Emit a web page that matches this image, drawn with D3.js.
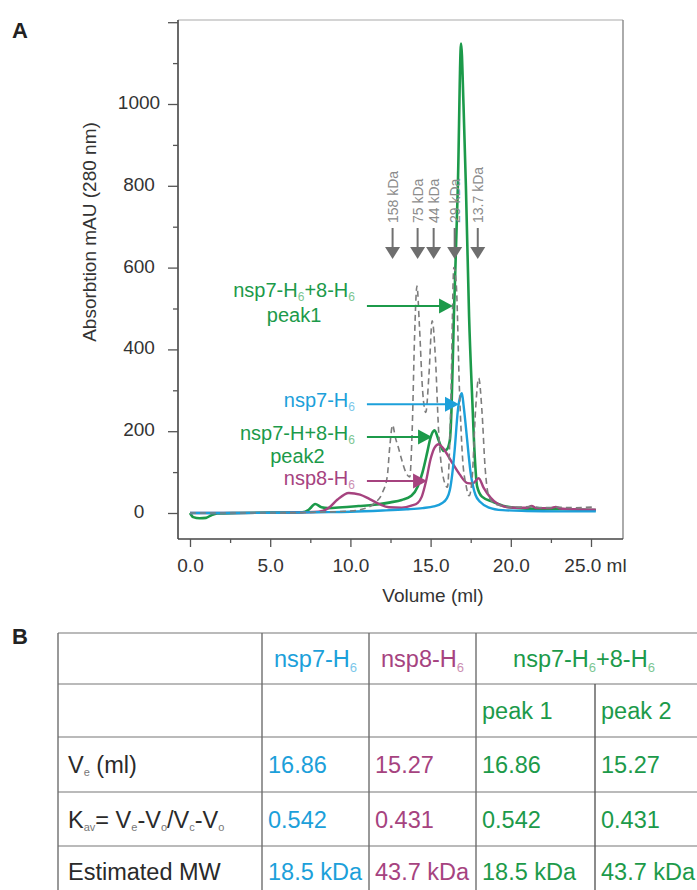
<!DOCTYPE html>
<html><head><meta charset="utf-8">
<script src="https://cdn.jsdelivr.net/npm/d3@7"></script>
<style>
body{margin:0;background:#fff;}
svg{display:block;font-family:"Liberation Sans",Arial,Helvetica,sans-serif;}
</style>
</head><body>
<svg id="c" width="697" height="890"></svg>
<script>
// ---------------- DATA ----------------
const volGreen = [0,0.2,0.6,1.0,1.3,1.7,3,5,7.0,7.4,7.8,8.2,8.6,9.5,10.5,11.5,12.5,13.2,13.8,14.2,14.5,14.8,15.0,15.25,15.5,15.8,16.0,16.2,16.3,16.45,16.7,16.9,17.05,17.2,17.4,17.6,17.75,17.9,18.2,18.9,19.5,20.5,22,23.5,25.3];
const absGreen = [0,-10,-13,-12,-6,-1,0,1,2,8,22,14,12,14,17,20,26,32,42,65,100,150,185,202,178,152,155,178,250,480,800,1148,1000,800,480,275,140,65,40,27,18,12,10,9,7];

const volBlue = [0,3,6,8,10,12,13.5,14.5,15.2,15.7,16.0,16.2,16.35,16.5,16.7,16.85,16.95,17.05,17.2,17.35,17.5,17.65,17.8,18.1,18.6,19.5,21,23,25.3];
const absBlue = [0,0,1,2,3,6,9,12,16,24,35,56,95,154,251,285,293,265,210,150,97,65,44,27,14,7,5,4,4];

const volMagenta = [0,3,6,8,8.7,9.2,9.9,10.6,11.2,11.8,12.4,13.2,13.8,14.2,14.45,14.7,15.0,15.25,15.5,15.75,16.25,16.8,17.3,17.6,18.0,18.3,18.75,19.5,20.2,21,21.3,21.6,22.5,22.8,23.1,24,25.3];
const absMagenta = [0,0,1,3,14,33,49,45,34,22,14,13,18,25,40,75,132,160,168,160,129,95,73,72,85,62,37,17,13,13,17,12,12,15,11,9,8];

const volStd = [0,5,8,10,11,11.5,12.0,12.3,12.45,12.63,12.8,13.0,13.2,13.45,13.7,13.85,14.0,14.15,14.3,14.5,14.7,14.9,15.1,15.3,15.5,15.75,16.05,16.25,16.45,16.6,16.8,17.0,17.2,17.4,17.6,17.8,18.0,18.2,18.4,18.6,18.9,19.5,20.5,21.2,22.0,23,24,25.3];
const absStd = [0,0,2,5,12,24,50,90,160,215,185,159,130,100,88,200,430,555,460,300,246,340,470,380,200,95,63,250,600,560,300,130,70,42,90,250,330,250,110,45,25,17,14,16,13,14,13,15];

const markerVolumes = [12.63,14.19,15.19,16.5,17.94];
const markerLabels = ["158 kDa","75 kDa","44 kDa","29 kDa","13.7 kDa"];

const xTicks = [0,5,10,15,20,25];
const xTickLabels = ["0.0","5.0","10.0","15.0","20.0","25.0 ml"];
const xMinorTicks = [2.5,7.5,12.5,17.5,22.5];
const yTicks = [0,200,400,600,800,1000,1200];
const yTickLabels = ["0","200","400","600","800","1000",""];
const yMinorTicks = [100,300,500,700,900,1100];

const annLabel1 = ["nsp7-H{6}+8-H{6}","nsp7-H{6}","nsp7-H+8-H{6}","nsp8-H{6}"];
const annLabel2 = ["peak1","","peak2",""];
const annTipVol = [16.4,16.77,15.09,14.78];
const annTipAbs = [506,266,186,78];
const annStartVol = 11.03;

const tableHeaders = ["nsp7-H{6}","nsp8-H{6}","nsp7-H{6}+8-H{6}"];
const peakLabels = ["peak 1","peak 2"];
const rowLabels = ["V{e} (ml)","K{av}= V{e}-V{o}/V{c}-V{o}","Estimated MW"];
const veValues = ["16.86","15.27","16.86","15.27"];
const kavValues = ["0.542","0.431","0.542","0.431"];
const mwValues = ["18.5 kDa","43.7 kDa","18.5 kDa","43.7 kDa"];

// ---------------- STYLE ----------------
const GREEN = "#1c9a4a", BLUE = "#1ca0da", MAG = "#a6437f";
const GREEN_L = "#7cc694", BLUE_L = "#7cc7ea", MAG_L = "#cc8fb3";

const svg = d3.select("#c");

const frame = {l:178, r:623, t:20, b:539};
const x = d3.scaleLinear().domain([0,25]).range([190,591]);
const y = d3.scaleLinear().domain([0,1000]).range([513,104]);

// rich text helper: {x} = subscript
function rich(sel, str, subSize, subColor, shift){
  const parts = str.split(/(\{[^}]*\})/).filter(s=>s.length);
  let pending = 0;
  parts.forEach(p=>{
    if(p[0]==="{"){
      sel.append("tspan").text(p.slice(1,-1)).attr("font-size",subSize)
        .attr("fill",subColor).attr("dy",shift + pending);
      pending = -shift;
    } else {
      const ts = sel.append("tspan").text(p);
      if(pending) ts.attr("dy",pending);
      pending = 0;
    }
  });
}

// panel letters
svg.append("text").attr("x",12).attr("y",38).attr("font-size",22).attr("font-weight","bold").attr("fill","#222").text("A");
svg.append("text").attr("x",12).attr("y",644).attr("font-size",22).attr("font-weight","bold").attr("fill","#222").text("B");

// frame
svg.append("line").attr("x1",frame.l).attr("x2",frame.r).attr("y1",frame.t).attr("y2",frame.t).attr("stroke","#aaa").attr("stroke-width",1.2);
svg.append("line").attr("x1",frame.r).attr("x2",frame.r).attr("y1",frame.t).attr("y2",frame.b).attr("stroke","#888").attr("stroke-width",1.4);
svg.append("line").attr("x1",frame.l).attr("x2",frame.l).attr("y1",frame.t).attr("y2",frame.b).attr("stroke","#444").attr("stroke-width",1.6);
svg.append("line").attr("x1",frame.l).attr("x2",frame.r).attr("y1",frame.b).attr("y2",frame.b).attr("stroke","#444").attr("stroke-width",1.6);

// y axis
const yMajor = svg.append("g").attr("transform",`translate(${frame.l},0)`)
  .call(d3.axisLeft(y).tickValues(yTicks).tickSize(10).tickFormat((d,i)=>yTickLabels[i]));
const yMinor = svg.append("g").attr("transform",`translate(${frame.l},0)`)
  .call(d3.axisLeft(y).tickValues(yMinorTicks).tickSize(5).tickFormat(""));
[yMajor,yMinor].forEach(g=>{g.select(".domain").remove(); g.selectAll("line").attr("stroke","#555").attr("stroke-width",1.3);});
yMinor.selectAll("text").remove();
yMajor.selectAll("text").filter(d=>yTickLabels[yTicks.indexOf(d)]==="").remove();
yMajor.selectAll("text").attr("font-size",19).attr("font-family",null).attr("fill","#333")
  .attr("text-anchor","middle").attr("x",139-frame.l).attr("dy","0.24em");

// x axis
const xMajor = svg.append("g").attr("transform",`translate(0,${frame.b})`)
  .call(d3.axisBottom(x).tickValues(xTicks).tickSize(8).tickFormat((d,i)=>xTickLabels[i]));
const xMinor = svg.append("g").attr("transform",`translate(0,${frame.b})`)
  .call(d3.axisBottom(x).tickValues(xMinorTicks).tickSize(4).tickFormat(""));
[xMajor,xMinor].forEach(g=>{g.select(".domain").remove(); g.selectAll("line").attr("stroke","#555").attr("stroke-width",1.3);});
xMinor.selectAll("text").remove();
xMajor.selectAll("text").attr("font-size",19).attr("font-family",null).attr("fill","#333").attr("y",20)
  .attr("dx",(d,i)=> i===xTicks.length-1 ? 4 : 0);

// axis titles
svg.append("text").attr("x",433).attr("y",602).attr("text-anchor","middle").attr("font-size",19).attr("fill","#333").text("Volume (ml)");
svg.append("text").attr("transform","translate(96,232) rotate(-90)").attr("text-anchor","middle").attr("font-size",19).attr("fill","#333").text("Absorbtion mAU (280 nm)");

// curves
const line = d3.line().x(d=>x(d[0])).y(d=>y(d[1])).curve(d3.curveMonotoneX);
const series = [
  {v:volGreen, a:absGreen, c:GREEN, w:2.6, dash:null},
  {v:volMagenta, a:absMagenta, c:MAG, w:2.4, dash:null},
  {v:volBlue, a:absBlue, c:BLUE, w:2.4, dash:null},
  {v:volStd, a:absStd, c:"#7d7d7d", w:1.6, dash:"6,4"}
];
series.forEach(s=>{
  svg.append("path").datum(d3.zip(s.v,s.a)).attr("d",line).attr("fill","none")
    .attr("stroke",s.c).attr("stroke-width",s.w).attr("stroke-linejoin","round")
    .attr("stroke-dasharray",s.dash);
});

// calibration markers
const mk = svg.append("g");
markerVolumes.forEach((v,i)=>{
  const cx = x(v);
  mk.append("line").attr("x1",cx).attr("x2",cx).attr("y1",228).attr("y2",248).attr("stroke","#707070").attr("stroke-width",2);
  mk.append("path").attr("d",`M${cx-7.5},247 L${cx+7.5},247 L${cx},259 Z`).attr("fill","#6e6e6e");
  mk.append("text").attr("transform",`translate(${cx+5},223) rotate(-90)`).attr("font-size",14)
    .attr("fill","#8c8c8c").text(markerLabels[i]);
});

// annotations
const annColors = [GREEN, BLUE, GREEN, MAG];
const annLight = [GREEN_L, BLUE_L, GREEN_L, MAG_L];
const line1Off = [-9,3,3,4];
const line2Off = [25,0,23,0];
const labelRight = 355;
annLabel1.forEach((lab,i)=>{
  const tx = x(annTipVol[i]), ty = y(annTipAbs[i]);
  const sx = x(annStartVol);
  svg.append("line").attr("x1",sx).attr("x2",tx-12).attr("y1",ty).attr("y2",ty).attr("stroke",annColors[i]).attr("stroke-width",2);
  svg.append("path").attr("d",`M${tx-14},${ty-7.5} L${tx},${ty} L${tx-14},${ty+7.5} Z`).attr("fill",annColors[i]);
  const t = svg.append("text").attr("x",labelRight).attr("y",ty+line1Off[i]).attr("text-anchor","end")
    .attr("font-size",20).attr("fill",annColors[i]);
  rich(t, lab, 12, annLight[i], 4);
  if(annLabel2[i]){
    const w = t.node().getComputedTextLength();
    svg.append("text").attr("x",labelRight - w/2).attr("y",ty+line1Off[i]+line2Off[i])
      .attr("text-anchor","middle").attr("font-size",20).attr("fill",annColors[i]).text(annLabel2[i]);
  }
});

// ---------------- TABLE ----------------
const colX = [58,262,369,476,595,697];
const rowY = [633,684,737,792,846,900];
const tb = svg.append("g");
rowY.slice(0,5).forEach(yy=>{
  tb.append("line").attr("x1",colX[0]).attr("x2",697).attr("y1",yy).attr("y2",yy).attr("stroke","#a3a3a3").attr("stroke-width",1.4);
});
colX.slice(0,4).forEach(xx=>{
  tb.append("line").attr("x1",xx).attr("x2",xx).attr("y1",rowY[0]).attr("y2",890).attr("stroke","#6e6e6e").attr("stroke-width",1.4);
});
tb.append("line").attr("x1",colX[4]).attr("x2",colX[4]).attr("y1",rowY[1]).attr("y2",890).attr("stroke","#5a5a5a").attr("stroke-width",1.4);

const TFS = 23.5;
const baseOff = 8.5;
const valColors = [BLUE, MAG, GREEN, GREEN];
const headColors = [BLUE, MAG, GREEN];
const headLight = [BLUE_L, MAG_L, GREEN_L];
const headCenters = [(colX[1]+colX[2])/2, (colX[2]+colX[3])/2, 584];
tableHeaders.forEach((h,i)=>{
  const t = tb.append("text").attr("x",headCenters[i]).attr("y",(rowY[0]+rowY[1])/2+baseOff)
    .attr("text-anchor","middle").attr("font-size",TFS).attr("fill",headColors[i]);
  rich(t,h,13,headLight[i],5);
});
peakLabels.forEach((p,i)=>{
  tb.append("text").attr("x",colX[3+i]+6).attr("y",(rowY[1]+rowY[2])/2+baseOff)
    .attr("font-size",TFS).attr("fill",GREEN).text(p);
});
rowLabels.forEach((r,i)=>{
  const t = tb.append("text").attr("x",68).attr("y",(rowY[2+i]+rowY[3+i])/2+baseOff+(i===2?-2:0))
    .attr("font-size",TFS).attr("fill","#2a2a2a");
  rich(t,r,11,"#777",3);
});
[veValues,kavValues,mwValues].forEach((vals,ri)=>{
  vals.forEach((v,ci)=>{
    tb.append("text").attr("x",colX[1+ci]+6).attr("y",(rowY[2+ri]+rowY[3+ri])/2+baseOff+(ri===2?-2:0))
      .attr("font-size",TFS).attr("fill",valColors[ci]).text(v);
  });
});
</script>
</body></html>
